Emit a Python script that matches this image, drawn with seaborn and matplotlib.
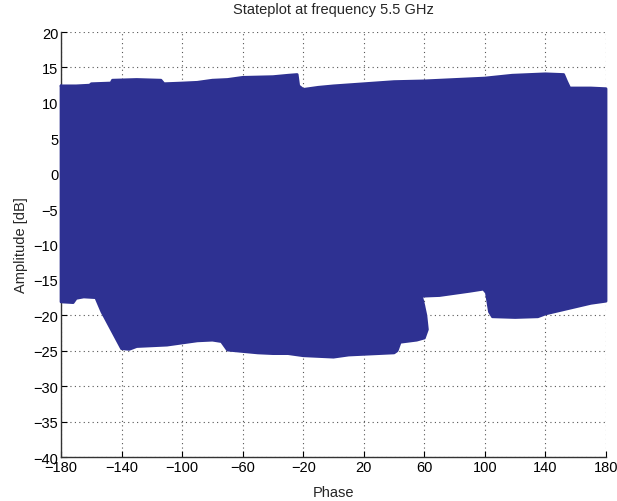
import numpy as np
import pandas as pd
import matplotlib
matplotlib.use("Agg")
import matplotlib.pyplot as plt
import seaborn as sns

# Boundary of the dense state cloud (phase in deg, amplitude in dB)
upper_phase = [-180, -170, -161, -160, -147, -146, -130, -114, -112, -100, -90, -80, -70, -60,
               -40, -30, -24, -23, -20, -10, 0, 20, 40, 60, 80, 100, 118, 140, 152, 154, 156, 170, 180]
upper_amp = [12.4, 12.4, 12.5, 12.7, 12.8, 13.2, 13.3, 13.2, 12.7, 12.8, 12.9, 13.2, 13.3, 13.6,
             13.7, 13.9, 14.0, 12.4, 11.9, 12.2, 12.4, 12.7, 13.0, 13.1, 13.3, 13.5, 13.9, 14.1, 14.0, 13.0, 12.1, 12.1, 12.0]

lower_phase = [-180, -172, -170, -165, -157, -155, -153, -148, -143, -140, -135, -130, -120, -110,
               -100, -90, -80, -74, -70, -60, -50, -40, -30, -20, -10, 0, 10, 20, 30, 40, 42, 44,
               55, 60, 62, 61, 59, 58, 70, 80, 90, 99, 101, 103, 105, 120, 135, 140, 150, 160, 170, 180]
lower_amp = [-18.1, -18.2, -17.6, -17.4, -17.5, -18.5, -19.5, -21.5, -23.5, -24.7, -24.8, -24.4, -24.3, -24.2,
             -23.9, -23.6, -23.5, -23.7, -24.9, -25.1, -25.3, -25.4, -25.4, -25.7, -25.8, -25.9, -25.6, -25.5, -25.4, -25.3, -25.0, -23.8,
             -23.5, -23.2, -22.0, -20.0, -18.0, -17.3, -17.2, -16.9, -16.6, -16.3, -16.8, -19.5, -20.2, -20.3, -20.2, -19.8, -19.3, -18.8, -18.3, -18.0]

x_ticks = list(range(-180, 181, 40))
y_ticks = list(range(-40, 21, 5))

color = "#2E3192"

sns.set_style("white")
plt.rcParams["font.family"] = ["Liberation Sans", "DejaVu Sans"]

fig = plt.figure(figsize=(6.17, 5.02), dpi=100)
ax = fig.add_axes([0.0989, 0.0876, 0.8833, 0.8466])

poly = pd.DataFrame({
    "phase": upper_phase + lower_phase[::-1] + [upper_phase[0]],
    "amp": upper_amp + lower_amp[::-1] + [upper_amp[0]],
})
ax.fill(poly["phase"], poly["amp"], color=color, zorder=3, linewidth=0)
sns.lineplot(data=poly, x="phase", y="amp", sort=False, estimator=None, color=color,
             linewidth=2.0, ax=ax, zorder=3)
for l in ax.lines:
    l.set_clip_on(False)

ax.set_xlim(-180, 180)
ax.set_ylim(-40, 20)
ax.set_xticks(x_ticks)
ax.set_yticks(y_ticks)
ax.set_xticklabels([str(t).replace("-", "\u2212") for t in x_ticks])
ax.set_yticklabels([str(t).replace("-", "\u2212") for t in y_ticks])
ax.tick_params(direction="in", length=4, width=0.8, labelsize=10.5, colors="black", pad=2,
               bottom=True, left=True)
ax.grid(True, linestyle=(0, (1, 3)), color="#555555", linewidth=0.8, zorder=0)
for s in ["top", "right"]:
    ax.spines[s].set_visible(False)
for s in ["left", "bottom"]:
    ax.spines[s].set_color("#333333")
    ax.spines[s].set_linewidth(1.0)
ax.set_axisbelow(True)

ax.set_title("Stateplot at frequency 5.5 GHz", fontsize=10.5, pad=14)
ax.set_xlabel("Phase", fontsize=10.5, labelpad=8)
ax.set_ylabel("Amplitude [dB]", fontsize=10.5, labelpad=4)

fig.savefig("out.png", dpi=100)
